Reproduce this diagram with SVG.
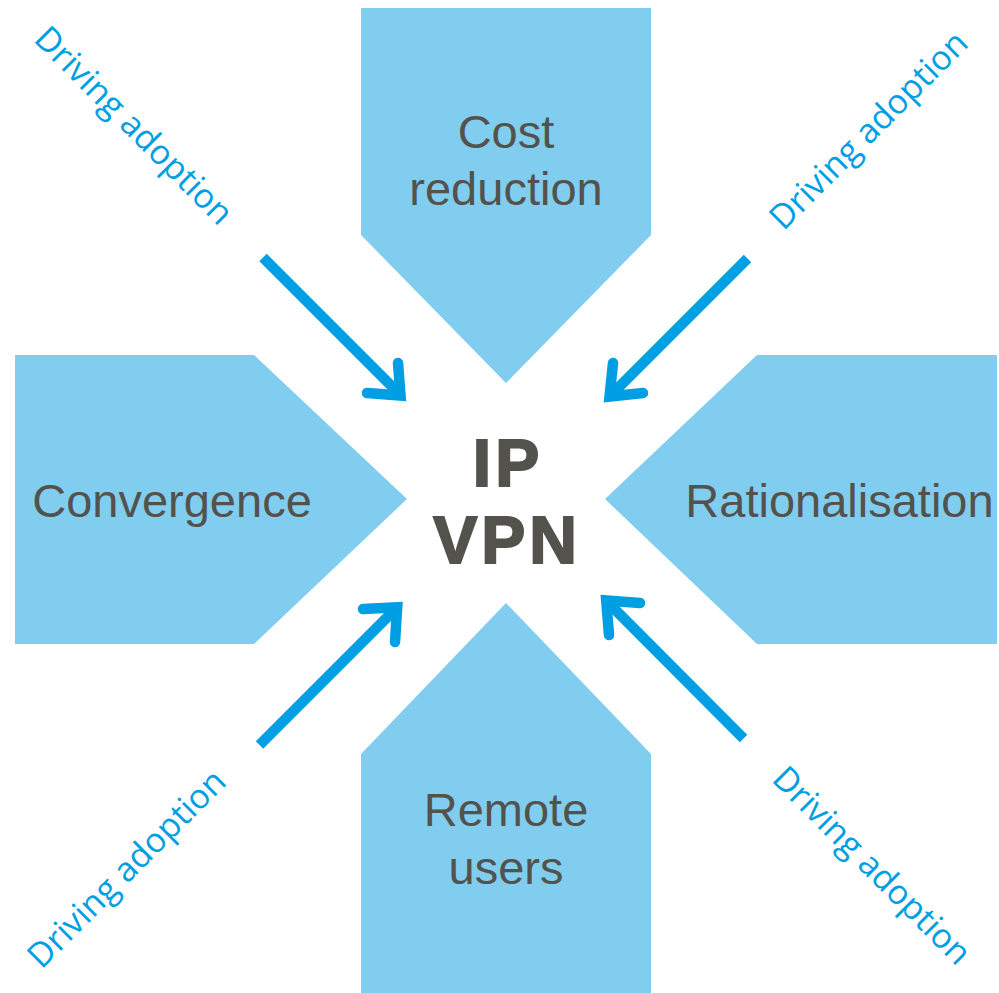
<svg xmlns="http://www.w3.org/2000/svg" width="999" height="993" viewBox="0 0 999 993">
<style>
.box{fill:#80CDEF;stroke:none}
.lbl{font-family:"Liberation Sans",Arial,sans-serif;font-size:47px;fill:#53524C;text-anchor:middle}
.ctr{font-family:"Liberation Sans",Arial,sans-serif;font-size:66px;font-weight:bold;fill:#53524C;stroke:#53524C;stroke-width:2;letter-spacing:4px;text-anchor:middle}
.drv{font-family:"Open Sans","Noto Sans",sans-serif;font-size:34px;fill:#009FE3;text-anchor:middle}
.shaft{fill:none;stroke:#009FE3;stroke-width:10.5;stroke-linecap:butt}
.head{fill:none;stroke:#009FE3;stroke-width:10.5;stroke-linecap:round;stroke-linejoin:miter;stroke-miterlimit:10}
</style>
<rect width="999" height="993" fill="#FFFFFF"/>
<g id="node-cost">
<polygon class="box" points="361,8 651,8 651,235 506,383 361,235"/>
<text class="lbl" x="506" y="148">Cost</text>
<text class="lbl" x="506" y="205">reduction</text>
</g>
<g id="node-convergence">
<polygon class="box" points="15,355 254,355 407,499 254,644 15,644"/>
<text class="lbl" x="172" y="517">Convergence</text>
</g>
<g id="node-rationalisation">
<polygon class="box" points="997,355 757,355 605,499 757,644 997,644"/>
<text class="lbl" x="839.5" y="517">Rationalisation</text>
</g>
<g id="node-remote">
<polygon class="box" points="361,993 651,993 651,754 506,603 361,754"/>
<text class="lbl" x="506" y="826">Remote</text>
<text class="lbl" x="506" y="884">users</text>
</g>
<g id="node-ipvpn">
<text class="ctr" x="508" y="486">IP</text>
<text class="ctr" x="507" y="563">VPN</text>
</g>
<g id="connectors">
<path class="shaft" d="M263,257.5 L398,392.5"/>
<path class="head" d="M398,363 L400.5,395.5 L367,393"/>
<path class="shaft" d="M747.5,258.5 L612,394"/>
<path class="head" d="M613,363 L609.5,396.5 L643,393"/>
<path class="shaft" d="M259.5,745 L394.5,610"/>
<path class="head" d="M395,642 L397.2,607.2 L363,609"/>
<path class="shaft" d="M743.5,738.5 L609,603.5"/>
<path class="head" d="M609,635 L606.2,600.5 L640,603"/>
</g>
<g id="labels">
<text class="drv" transform="translate(125.7,133.8) rotate(45)">Driving adoption</text>
<text class="drv" transform="translate(876.8,138.3) rotate(-45)">Driving adoption</text>
<text class="drv" transform="translate(134.8,876.8) rotate(-45)">Driving adoption</text>
<text class="drv" transform="translate(863.7,873.8) rotate(45)">Driving adoption</text>
</g>
</svg>
